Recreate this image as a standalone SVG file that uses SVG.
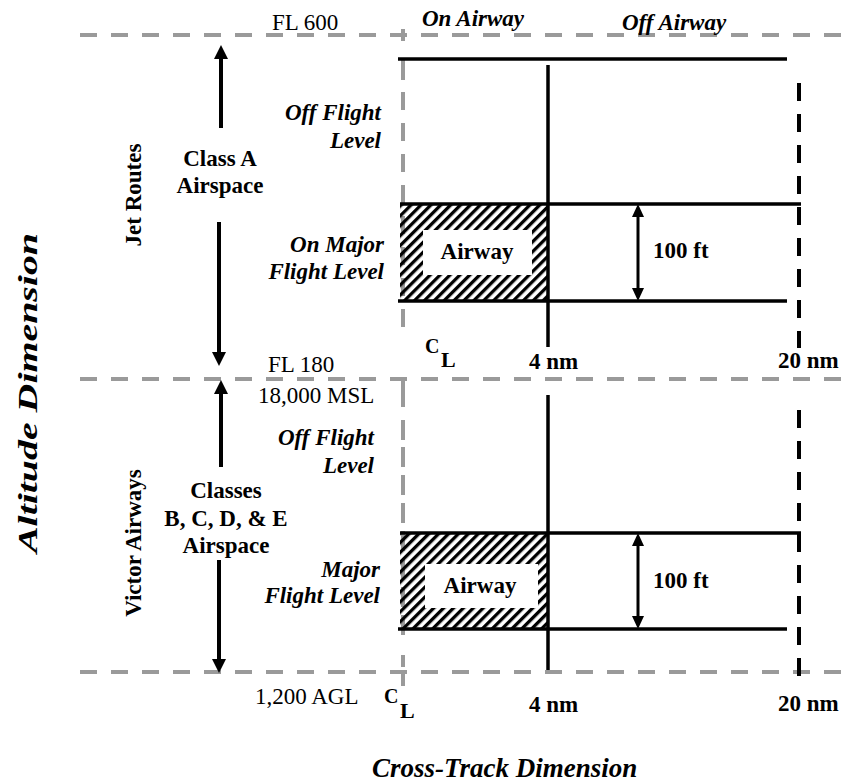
<svg xmlns="http://www.w3.org/2000/svg" width="844" height="783" viewBox="0 0 844 783">
<defs>
<style>
text{font-family:"Liberation Serif","Times New Roman",serif;fill:#000}
.r{font-size:23px}
.b{font-size:23px;font-weight:bold}
.bi{font-size:23px;font-weight:bold;font-style:italic}
.g{stroke:#9a9a9a;stroke-width:4;fill:none}
.gd{stroke:#9a9a9a;stroke-width:4;fill:none;stroke-dasharray:17 14}
.k{stroke:#000;stroke-width:3.5;fill:none}
.kd{stroke:#000;stroke-width:4;fill:none;stroke-dasharray:18 13}
.ar{stroke:#000;stroke-width:4;fill:none}
.ar2{stroke:#000;stroke-width:3;fill:none}
.wb{fill:#fff;stroke:none}
</style>
<pattern id="hatch" patternUnits="userSpaceOnUse" width="7" height="7" patternTransform="rotate(45)">
<rect x="0" y="0" width="3.3" height="7" fill="#000"/>
</pattern>
<marker id="ah" markerUnits="userSpaceOnUse" viewBox="0 0 14 14" refX="0" refY="7" markerWidth="14" markerHeight="14" orient="auto-start-reverse">
<path d="M0,0 L14,7 L0,14 z" fill="#000"/>
</marker>
<marker id="ahs" markerUnits="userSpaceOnUse" viewBox="0 0 13 12" refX="0" refY="6" markerWidth="13" markerHeight="12" orient="auto-start-reverse">
<path d="M0,0 L13,6 L0,12 z" fill="#000"/>
</marker>
</defs>
<rect width="844" height="783" fill="#fff"/>

<!-- gray reference lines -->
<g id="reference-lines">
<path class="gd" d="M80 35 H844 M80 379 H844 M80 672 H844"/>
<path class="g" d="M403 29 V41 M403 60 V80 M403 92 V110 M403 123 V141 M403 154 V172 M403 185 V203 M403 216 V234 M403 247 V265 M403 278 V296 M403 309 V327"/>
<path class="g" d="M403 379 V407 M403 420 V440 M403 447 V467 M403 475 V495 M403 503 V523 M403 531 V551 M403 559 V579 M403 587 V607 M403 615 V635 M403 655 V667 M403 671 V686"/>
</g>

<!-- upper panel: jet routes -->
<g id="jet-panel">
<rect id="jet-airway-hatch" x="400" y="204" width="148" height="97" fill="url(#hatch)"/>
<rect class="wb" x="423" y="230" width="109" height="45"/>
<path class="k" d="M398 59 H787"/>
<path class="k" d="M400 204 H801"/>
<path class="k" d="M398 301 H787"/>
<path class="k" d="M548 65 V347"/>
<path class="kd" d="M799 83 V348"/>
</g>

<!-- lower panel: victor airways -->
<g id="victor-panel">
<rect id="victor-airway-hatch" x="400" y="533" width="148" height="96" fill="url(#hatch)"/>
<rect class="wb" x="425" y="564" width="113" height="44"/>
<path class="k" d="M400 533 H801"/>
<path class="k" d="M398 629 H787"/>
<path class="k" d="M548 395 V670"/>
<path class="kd" d="M799 410 V677"/>
</g>

<!-- arrows -->
<g id="connectors">
<path class="ar" d="M221 128 V59" marker-end="url(#ah)"/>
<path class="ar" d="M219 222 V352" marker-end="url(#ah)"/>
<path class="ar" d="M221 467 V394" marker-end="url(#ah)"/>
<path class="ar" d="M219 560 V659" marker-end="url(#ah)"/>
<path class="ar2" d="M638 217 V288" marker-start="url(#ahs)" marker-end="url(#ahs)"/>
<path class="ar2" d="M638 546 V616" marker-start="url(#ahs)" marker-end="url(#ahs)"/>
</g>

<!-- labels -->
<g id="top-labels">
<text class="r" x="272" y="30">FL 600</text>
<text class="bi" x="422" y="26">On Airway</text>
<text class="bi" x="622" y="30">Off Airway</text>
</g>

<g id="jet-labels">
<text class="b" text-anchor="middle" transform="translate(141,195) rotate(-90)">Jet Routes</text>
<text class="b" text-anchor="middle" x="220" y="166">Class A</text>
<text class="b" text-anchor="middle" x="220" y="193">Airspace</text>
<text class="bi" text-anchor="end" x="381" y="120">Off Flight</text>
<text class="bi" text-anchor="end" x="381" y="148">Level</text>
<text class="bi" text-anchor="end" x="384" y="252">On Major</text>
<text class="bi" text-anchor="end" x="384" y="279">Flight Level</text>
<text class="b" text-anchor="middle" x="477" y="259">Airway</text>
<text class="b" x="653" y="258">100 ft</text>
<text font-size="20" font-weight="bold" x="425" y="353">C</text>
<text font-size="22" font-weight="bold" x="441" y="367">L</text>
<text class="b" x="529" y="369">4 nm</text>
<text class="b" x="778" y="368">20 nm</text>
</g>

<g id="victor-labels">
<text class="r" x="268" y="372">FL 180</text>
<text class="r" x="258" y="403">18,000 MSL</text>
<text class="b" text-anchor="middle" transform="translate(141,543) rotate(-90)">Victor Airways</text>
<text class="b" text-anchor="middle" x="226" y="498">Classes</text>
<text class="b" text-anchor="middle" x="226" y="526">B, C, D, &amp; E</text>
<text class="b" text-anchor="middle" x="226" y="553">Airspace</text>
<text class="bi" text-anchor="end" x="374" y="445">Off Flight</text>
<text class="bi" text-anchor="end" x="374" y="473">Level</text>
<text class="bi" text-anchor="end" x="380" y="577">Major</text>
<text class="bi" text-anchor="end" x="380" y="603">Flight Level</text>
<text class="b" text-anchor="middle" x="480" y="593">Airway</text>
<text class="b" x="653" y="588">100 ft</text>
<text class="r" x="255" y="704">1,200 AGL</text>
<text font-size="20" font-weight="bold" x="384" y="703">C</text>
<text font-size="22" font-weight="bold" x="400" y="718">L</text>
<text class="b" x="529" y="712">4 nm</text>
<text class="b" x="778" y="711">20 nm</text>
</g>

<g id="axis-labels">
<text font-size="28" font-weight="bold" font-style="italic" text-anchor="middle" textLength="320" lengthAdjust="spacingAndGlyphs" transform="translate(37,393) rotate(-90)">Altitude Dimension</text>
<text font-size="27" font-weight="bold" font-style="italic" x="372" y="777">Cross-Track Dimension</text>
</g>
</svg>
